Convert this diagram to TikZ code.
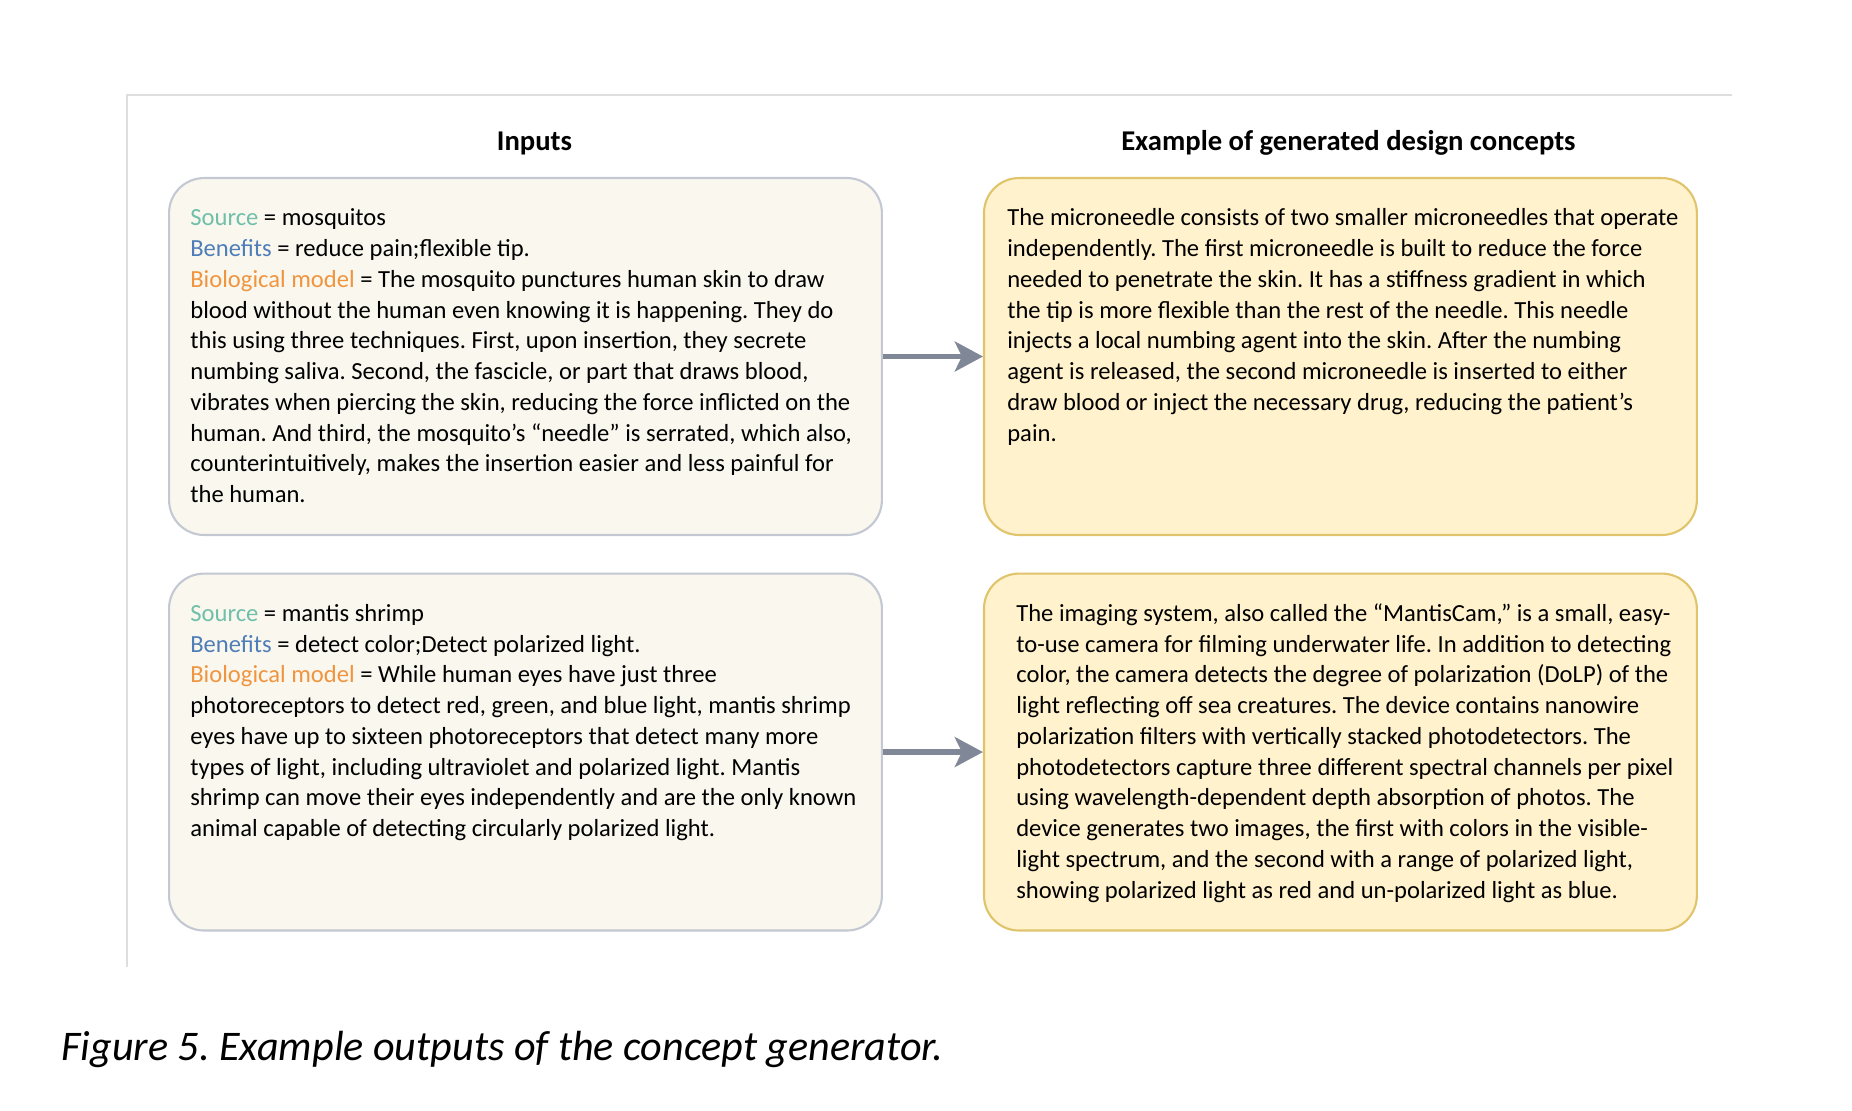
\documentclass[tikz,border=0pt]{standalone}
\usepackage{fontspec}
\setmainfont{Carlito}
\usepackage{tikz}
\usetikzlibrary{arrows.meta,positioning,calc}
\definecolor{InFill}{HTML}{F9F7EE}
\definecolor{InLine}{HTML}{C3C8D2}
\definecolor{OutFill}{HTML}{FFF2CC}
\definecolor{OutLine}{HTML}{E0C46C}
\definecolor{SrcCol}{HTML}{6FBFAA}
\definecolor{BenCol}{HTML}{4F7DB8}
\definecolor{BioCol}{HTML}{F0953F}
\definecolor{ArrGray}{HTML}{808898}
\definecolor{FrameGray}{HTML}{DEDEDE}
\frenchspacing

\begin{document}
\begin{tikzpicture}[x=0.02cm,y=0.02cm,>=Stealth]
\tikzstyle{inbox}=[draw=InLine,line width=1.2pt,fill=InFill,rounded corners=0.7cm,minimum width=14.26cm,minimum height=7.14cm,inner sep=0pt]
\tikzstyle{outbox}=[inbox,draw=OutLine,fill=OutFill]
\tikzstyle{body}=[anchor=north west,inner sep=0pt,align=left,font=\fontsize{14}{17.5}\selectfont\frenchspacing]
\tikzstyle{head}=[font=\fontsize{16.3}{19}\selectfont\bfseries]
\tikzstyle{flow}=[draw=ArrGray,line width=3.2pt,-{Stealth[length=16pt,width=17pt,inset=4pt]}]
\useasboundingbox (0,0) rectangle (1852,1110);
\draw[FrameGray,line width=1pt] (127,143) |- (1732,1015);
\node[inbox,anchor=north west] (inA) at (168,933) {};
\node[outbox,right=2cm of inA] (outA) {};
\node[inbox,below=0.73cm of inA] (inB) {};
\node[outbox,right=2cm of inB] (outB) {};
\node[head] (hIn) at ($(inA.north)+(9,34)$) {Inputs};
\node[head] (hOut) at ($(outA.north)+(8,34)$) {Example of generated design concepts};
\node[body] (txA) at ($(inA.north west)+(22,-27)$) {\strut\textcolor{SrcCol}{Source} = mosquitos\\
\textcolor{BenCol}{Benefits} = reduce pain;flexible tip.\\
\textcolor{BioCol}{Biological model} = The mosquito punctures human skin to draw\\
blood without the human even knowing it is happening. They do\\
this using three techniques. First, upon insertion, they secrete\\
numbing saliva. Second, the fascicle, or part that draws blood,\\
vibrates when piercing the skin, reducing the force inflicted on the\\
human. And third, the mosquito’s “needle” is serrated, which also,\\
counterintuitively, makes the insertion easier and less painful for\\
the human.};
\node[body] (txB) at ($(outA.north west)+(24,-27)$) {\strut The microneedle consists of two smaller microneedles that operate\\
independently. The first microneedle is built to reduce the force\\
needed to penetrate the skin. It has a stiffness gradient in which\\
the tip is more flexible than the rest of the needle. This needle\\
injects a local numbing agent into the skin. After the numbing\\
agent is released, the second microneedle is inserted to either\\
draw blood or inject the necessary drug, reducing the patient’s\\
pain.};
\node[body] (txC) at ($(inB.north west)+(22,-27)$) {\strut\textcolor{SrcCol}{Source} = mantis shrimp\\
\textcolor{BenCol}{Benefits} = detect color;Detect polarized light.\\
\textcolor{BioCol}{Biological model} = While human eyes have just three\\
photoreceptors to detect red, green, and blue light, mantis shrimp\\
eyes have up to sixteen photoreceptors that detect many more\\
types of light, including ultraviolet and polarized light. Mantis\\
shrimp can move their eyes independently and are the only known\\
animal capable of detecting circularly polarized light.};
\node[body] (txD) at ($(outB.north west)+(33,-27)$) {\strut The imaging system, also called the “MantisCam,” is a small, easy-\\
to-use camera for filming underwater life. In addition to detecting\\
color, the camera detects the degree of polarization (DoLP) of the\\
light reflecting off sea creatures. The device contains nanowire\\
polarization filters with vertically stacked photodetectors. The\\
photodetectors capture three different spectral channels per pixel\\
using wavelength-dependent depth absorption of photos. The\\
device generates two images, the first with colors in the visible-\\
light spectrum, and the second with a range of polarized light,\\
showing polarized light as red and un-polarized light as blue.};
\draw[flow] (inA) -- (outA);
\draw[flow] (inB) -- (outB);
\node[anchor=west,inner sep=0pt,font=\fontsize{24}{28}\selectfont\itshape] (cap) at (61,61) {Figure 5. Example outputs of the concept generator.};
\end{tikzpicture}
\end{document}
